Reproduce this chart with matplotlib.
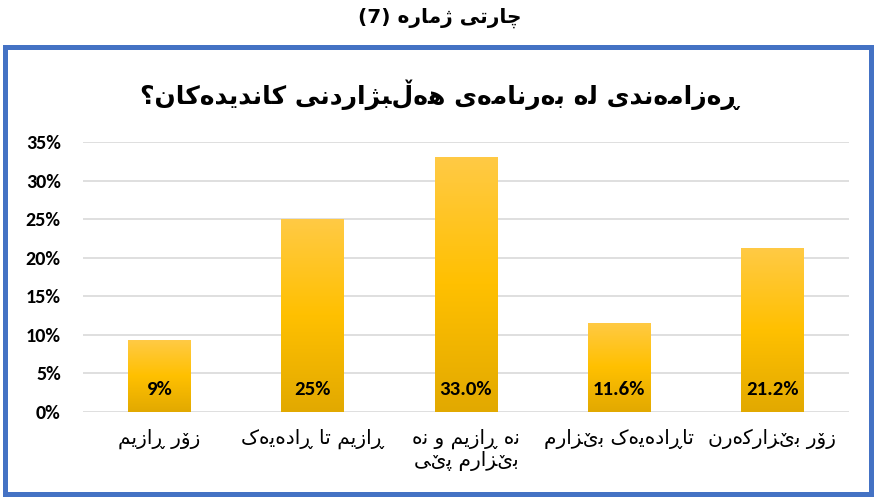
import numpy as np
import matplotlib
matplotlib.use('Agg')
import matplotlib.pyplot as plt
from matplotlib.colors import LinearSegmentedColormap
from matplotlib.patches import Rectangle
from matplotlib.ticker import PercentFormatter

# ── Data ──────────────────────────────────────────────────────────────────────

FIG_TITLE = 'چارتی ژمارە (7)'
CHART_TITLE = 'ڕەزامەندی لە بەرنامەی هەڵبژاردنی کاندیدەکان؟'
CATEGORIES = ['زۆر ڕازیم', 'ڕازیم تا ڕادەیەک', 'نە ڕازیم و نە\nبێزارم پێی',
              'تاڕادەیەک بێزارم', 'زۆر بێزارکەرن']
VALUES = [9.3, 25.0, 33.0, 11.6, 21.2]
VALUE_LABELS = ['9%', '25%', '33.0%', '11.6%', '21.2%']
YTICKS = [0, 5, 10, 15, 20, 25, 30, 35]

# ── Style ─────────────────────────────────────────────────────────────────────

BORDER = '#4472C4'
GRID = '#D9D9D9'
TEXT = '#000000'
BAR_BOTTOM = '#E2A900'
BAR_MID = '#FFC000'
BAR_TOP = '#FFCA45'
NUM_FONT = ['Carlito', 'Lato', 'DejaVu Sans']
AR_FONT = ['DejaVu Sans']

# ── Minimal Arabic-script shaping (matplotlib has no text shaping) ───────────

FORMS = {  # isolated, final, initial, medial
    'چ': (0xFB7A, 0xFB7B, 0xFB7C, 0xFB7D), 'ا': (0xFE8D, 0xFE8E),
    'ر': (0xFEAD, 0xFEAE), 'ت': (0xFE95, 0xFE96, 0xFE97, 0xFE98),
    'ی': (0xFBFC, 0xFBFD, 0xFBFE, 0xFBFF), 'ژ': (0xFB8A, 0xFB8B),
    'م': (0xFEE1, 0xFEE2, 0xFEE3, 0xFEE4), 'ۆ': (0xFBD9, 0xFBDA),
    'ز': (0xFEAF, 0xFEB0), 'ن': (0xFEE5, 0xFEE6, 0xFEE7, 0xFEE8),
    'د': (0xFEA9, 0xFEAA), 'ل': (0xFEDD, 0xFEDE, 0xFEDF, 0xFEE0),
    'ب': (0xFE8F, 0xFE90, 0xFE91, 0xFE92), 'ه': (0xFEE9, 0xFEEA, 0xFEEB, 0xFEEC),
    'ک': (0xFB8E, 0xFB8F, 0xFB90, 0xFB91), 'پ': (0xFB56, 0xFB57, 0xFB58, 0xFB59),
    'و': (0xFEED, 0xFEEE),
}
DUAL = set('چتیمنلبهکپێڵ')
RIGHT = set('ارژزدوۆەڕ')


def shape_line(s):
    out = []
    for i, c in enumerate(s):
        prev = s[i - 1] if i > 0 else ''
        nxt = s[i + 1] if i + 1 < len(s) else ''
        jp = (c in DUAL or c in RIGHT) and prev in DUAL
        jn = c in DUAL and (nxt in DUAL or nxt in RIGHT)
        f = FORMS.get(c)
        if f is None:
            out.append(c)
            continue
        if jp and jn and len(f) == 4:
            out.append(chr(f[3]))
        elif jp:
            out.append(chr(f[1]))
        elif jn and len(f) == 4:
            out.append(chr(f[2]))
        else:
            out.append(chr(f[0]))
    vis = ''.join(reversed(out))
    return vis.translate(str.maketrans('()', ')('))


def rtl(s):
    return '\n'.join(shape_line(line) for line in s.split('\n'))


# ── Figure ────────────────────────────────────────────────────────────────────

fig = plt.figure(figsize=(8.79, 5.03), dpi=100)
ax = fig.add_axes([0.0944, 0.1809, 0.8714, 0.5368])

x = np.arange(len(CATEGORIES))
bars = ax.bar(x, VALUES, width=0.41, color=BAR_MID, zorder=3)

# vertical gradient per bar, as in the original office chart
cmap = LinearSegmentedColormap.from_list('bar', [BAR_BOTTOM, BAR_MID, BAR_TOP])
grad = np.linspace(0, 1, 256).reshape(-1, 1)
for b in bars:
    x0, w, h = b.get_x(), b.get_width(), b.get_height()
    im = ax.imshow(grad, extent=[x0, x0 + w, 0, h], origin='lower', cmap=cmap,
                   aspect='auto', zorder=4)
    im.set_clip_path(b)

for xi, lab in zip(x, VALUE_LABELS):
    ax.annotate(lab, (xi, 0), xytext=(0, 16), textcoords='offset points',
                ha='center', va='center', fontsize=15, fontweight='bold',
                family=NUM_FONT, color=TEXT, zorder=5)

ax.set_xlim(-0.5, len(CATEGORIES) - 0.5)
ax.set_ylim(0, 35)
ax.set_yticks(YTICKS)
ax.yaxis.set_major_formatter(PercentFormatter(decimals=0))
for t in ax.get_yticklabels():
    t.set_fontweight('bold')
    t.set_family(NUM_FONT)
    t.set_fontsize(14.5)
ax.set_xticks(x)
ax.set_xticklabels([rtl(c) for c in CATEGORIES], family=AR_FONT, fontsize=14.5,
                   linespacing=1.15, va='top')
ax.tick_params(axis='x', length=0, pad=12, colors=TEXT)
ax.tick_params(axis='y', length=0, pad=16, colors=TEXT)
ax.grid(axis='y', color=GRID, linewidth=1.2, zorder=0)
ax.set_axisbelow(True)
for sp in ax.spines.values():
    sp.set_visible(False)

fig.text(0.5, 1 - 18 / 503, rtl(FIG_TITLE), ha='center', va='center',
         fontsize=14.5, fontweight='bold', family=AR_FONT, color=TEXT)
fig.text(0.5, 1 - 95 / 503, rtl(CHART_TITLE), ha='center', va='center',
         fontsize=18, fontweight='bold', family=AR_FONT, color=TEXT)

fig.patches.append(Rectangle((5 / 879, 1 - 494 / 503), 866 / 879, 447 / 503,
                             transform=fig.transFigure, fill=False,
                             edgecolor=BORDER, linewidth=3.6, zorder=10))

fig.savefig('out.png', dpi=100)
